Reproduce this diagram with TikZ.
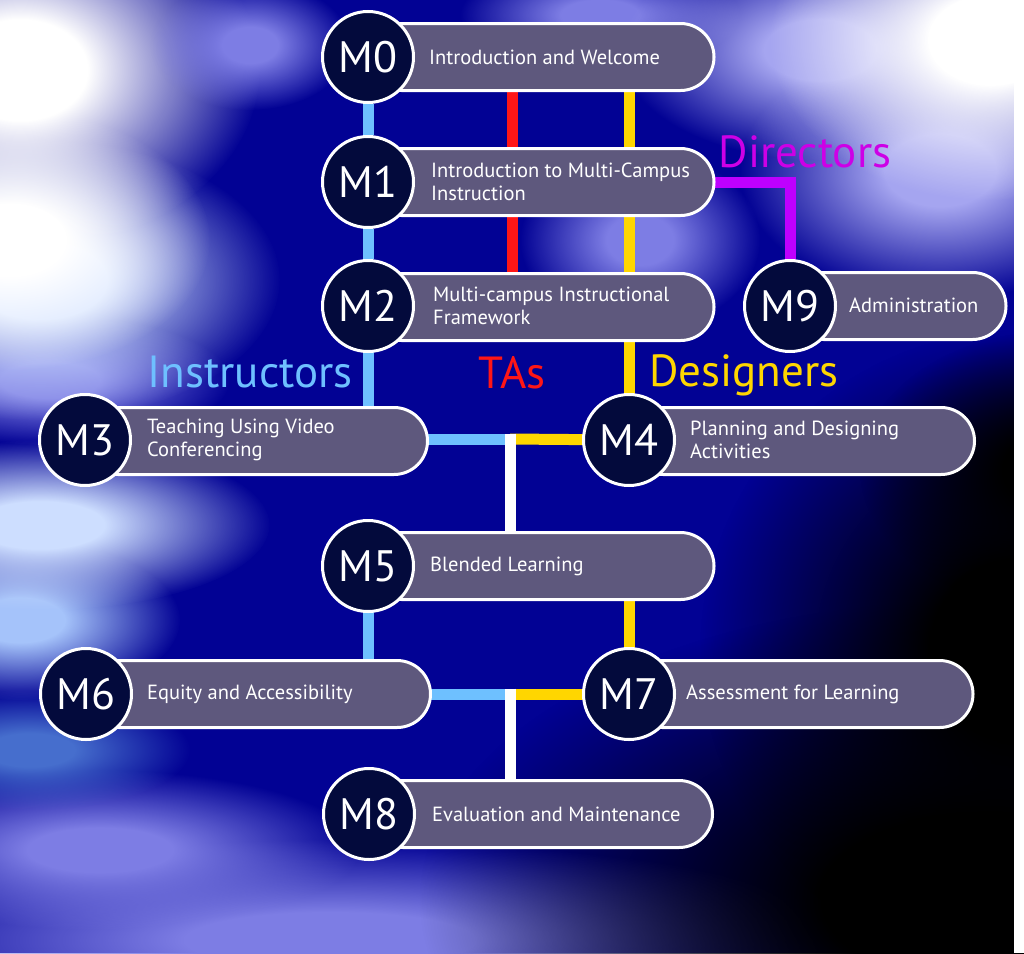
\documentclass[tikz,border=0pt]{standalone}
\usepackage{fontspec}
\setmainfont{PT Sans}
\usetikzlibrary{shapes.misc,fadings}
\definecolor{bgbase}{RGB}{2,2,148}
\definecolor{barcol}{RGB}{94,88,125}
\definecolor{navy}{RGB}{3,10,60}
\definecolor{instr}{RGB}{110,192,255}
\definecolor{tared}{RGB}{255,22,22}
\definecolor{desy}{RGB}{255,214,0}
\definecolor{dirp}{RGB}{190,0,255}
\definecolor{dirtext}{RGB}{205,0,230}
\definecolor{lav}{RGB}{125,125,228}
\definecolor{lavlight}{RGB}{165,165,240}
\definecolor{iceblue}{RGB}{205,222,255}
\definecolor{skyblue}{RGB}{165,195,250}
\definecolor{steel}{RGB}{70,110,205}
\pgfdeclareradialshading{softsh}{\pgfpointorigin}{color(0bp)=(white); color(7bp)=(white); color(25bp)=(black); color(50bp)=(black)}
\pgfdeclarefading{softblob}{\pgfuseshading{softsh}}
\pgfdeclarelayer{bg}
\pgfdeclarelayer{lines}
\pgfsetlayers{bg,lines,main}
\tikzset{
  modbar/.style={rounded rectangle, draw=white, line width=3pt, fill=barcol, minimum height=67pt, inner sep=0pt},
  modcirc/.style={circle, draw=white, line width=3pt, fill=navy, minimum size=91pt, inner sep=0pt, text=white, font=\fontsize{44}{44}\selectfont},
  modtext/.style={anchor=west, inner sep=0pt, text=white, align=left, font=\fontsize{20.5}{23}\selectfont},
  role/.style={anchor=base, inner sep=0pt, font=\fontsize{45}{45}\selectfont},
  link/.style={line width=11pt},
  glow/.style={path fading=softblob},
}
\begin{document}
\begin{tikzpicture}[x=1pt,y=-1pt]
\useasboundingbox (0,0) rectangle (1024,953);
\begin{pgfonlayer}{bg}
  \fill[bgbase] (0,0) rectangle (1024,953);
  % bottom band
  \fill[lav, glow] (330,940) ellipse (520 and 100);
  \fill[lav, glow] (100,850) ellipse (260 and 80);
  % left side
  \fill[steel, glow] (30,750) ellipse (160 and 60);
  \fill[skyblue, glow] (20,620) ellipse (160 and 80);
  \fill[iceblue, glow] (40,525) ellipse (230 and 85);
  \fill[lav, glow] (50,380) ellipse (180 and 65);
  \fill[iceblue, glow] (40,280) ellipse (240 and 140);
  \fill[white, glow] (10,240) ellipse (200 and 130);
  \fill[white, glow] (20,70) ellipse (240 and 180);
  \fill[lav, glow] (250,45) ellipse (100 and 65);
  % centre glows
  \fill[lav, glow] (640,240) ellipse (120 and 90);
  \fill[lav, glow] (600,15) ellipse (140 and 55);
  % top right
  \fill[lavlight, glow] (820,50) ellipse (200 and 110);
  \fill[lavlight, glow] (940,170) ellipse (200 and 130);
  \fill[white, glow] (990,40) ellipse (220 and 160);
  % dark right
  \fill[black, glow] (980,900) ellipse (560 and 300);
  \fill[black, glow] (1020,650) ellipse (320 and 320);
  \fill[black, glow] (1060,470) ellipse (200 and 140);
  % white strip on the right
  \fill[white] (1014,0) rectangle (1024,953);
\end{pgfonlayer}

% bars
\node[modbar, minimum width=346pt] (b0) at (541,57) {};
\node[modbar, minimum width=346pt] (b1) at (541,182) {};
\node[modbar, minimum width=346pt] (b2) at (541,307) {};
\node[modbar, minimum width=343pt] (b3) at (256,441) {};
\node[modbar, minimum width=345pt] (b4) at (802,441) {};
\node[modbar, minimum width=346pt] (b5) at (541,566) {};
\node[modbar, minimum width=345pt] (b6) at (258,694) {};
\node[modbar, minimum width=344pt] (b7) at (801,694) {};
\node[modbar, minimum width=343pt] (b8) at (541,814) {};
\node[modbar, minimum width=216pt] (b9) at (898,306) {};

% circles
\node[modcirc] (m0) at (368,57) {M0};
\node[modcirc] (m1) at (368,182) {M1};
\node[modcirc] (m2) at (368,306) {M2};
\node[modcirc] (m3) at (85,440) {M3};
\node[modcirc] (m4) at (629,440) {M4};
\node[modcirc] (m5) at (368,566) {M5};
\node[modcirc] (m6) at (86,694) {M6};
\node[modcirc] (m7) at (629,694) {M7};
\node[modcirc] (m8) at (369,814) {M8};
\node[modcirc] (m9) at (790,306) {M9};

% texts
\node[modtext] (t0) at (429,57) {Introduction and Welcome};
\node[modtext] (t1) at (431,182) {Introduction to Multi-Campus\\Instruction};
\node[modtext] (t2) at (433,306) {Multi-campus Instructional\\Framework};
\node[modtext] (t3) at (147,440) {Teaching Using Video\\Conferencing};
\node[modtext] (t4) at (690,440) {Planning and Designing\\Activities};
\node[modtext] (t5) at (430,566) {Blended Learning};
\node[modtext] (t6) at (147,694) {Equity and Accessibility};
\node[modtext] (t7) at (686,694) {Assessment for Learning};
\node[modtext] (t8) at (432,814) {Evaluation and Maintenance};
\node[modtext] (t9) at (849,305) {Administration};

% role labels
\node[role, text=instr] (linstr) at (250,387) {Instructors};
\node[role, text=tared] (lta) at (512,388) {TAs};
\node[role, text=desy] (ldes) at (744,386) {Designers};
\node[role, text=dirtext] (ldir) at (805,167) {Directors};

% junctions
\coordinate (rx) at (512,0);
\coordinate (j1) at (510,439);
\coordinate (j2) at (510,694);

\begin{pgfonlayer}{lines}
  \draw[link, instr] (m0) -- (m1);
  \draw[link, instr] (m1) -- (m2);
  \draw[link, instr] (m2.center) -- (m2.center |- b3.center);
  \draw[link, tared] (b0.center -| rx) -- (b2.center -| rx);
  \draw[link, desy] (b0.center -| m4.center) -- (m4.center);
  \draw[link, desy] (b5.center -| m7.center) -- (m7.center);
  \draw[link, instr] (m5.center) -- (m5.center |- b6.center);
  \draw[link, dirp] (b1.center) -| (m9.center);
  \draw[link, instr] (j1) -- (j1 -| b3.center);
  \draw[link, desy] (j1) -- (m4.center);
  \draw[link, white, shorten <=-5.5pt] (j1) -- (j1 |- m5.center);
  \draw[link, instr] (j2) -- (j2 -| b6.center);
  \draw[link, desy] (j2) -- (m7.center);
  \draw[link, white, shorten <=-5.5pt] (j2) -- (j2 |- m8.center);
\end{pgfonlayer}
\end{tikzpicture}
\end{document}
